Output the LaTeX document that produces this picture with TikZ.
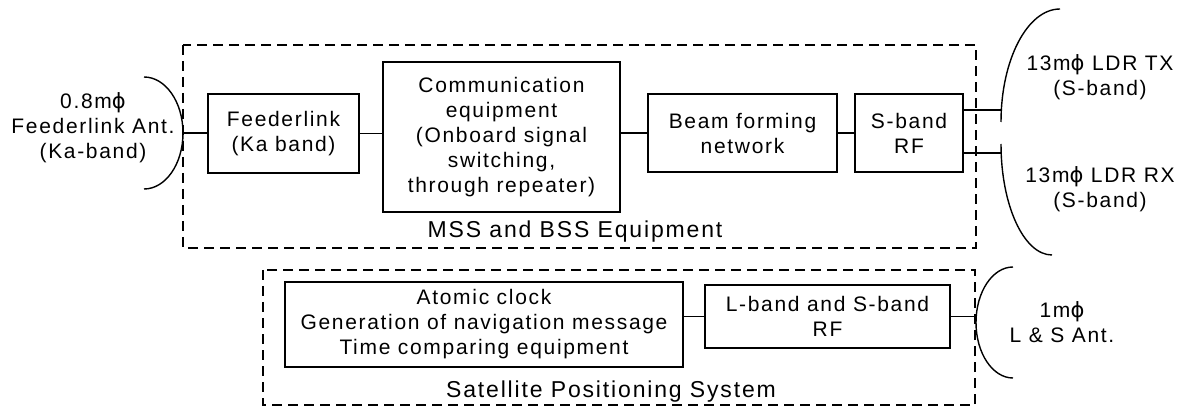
\documentclass[tikz,border=0pt]{standalone}
\usepackage{fontspec}
\setmainfont{Liberation Sans}
\newfontfamily\spacedfont[LetterSpace=8]{Liberation Sans}
\newfontfamily\phifont{DejaVu Sans}
\newcommand{\phisym}{{\phifont ϕ}}
\usepackage{tikz}
\tikzset{
    equip-box/.style = {draw=black, fill=white, line width=1.6pt, rectangle, align=center, inner sep=0pt},
    group-frame/.style = {draw=black, line width=1.4pt, dash pattern=on 10pt off 6pt},
    group-title/.style = {font=\spacedfont\fontsize{23}{27}\selectfont},
    dish/.style = {draw=black, line width=1.4pt},
    link/.style = {draw=black, line width=1.6pt},
    spaced-text/.style = {font=\spacedfont\fontsize{21}{25}\selectfont, align=center},
}

\begin{document}
\begin{tikzpicture}[x=1pt, y=1pt]
\useasboundingbox (0,0) rectangle (1185,407);
\draw[group-frame] (183,362) rectangle (976,159);
\draw[group-frame] (263,137) rectangle (975,2);

\node[equip-box, spaced-text, minimum width=151pt, minimum height=79pt] (feeder) at (283.5,273.5) {Feederlink\\(Ka band)};
\node[equip-box, spaced-text, minimum width=237pt, minimum height=150pt] (comm) at (501.5,270) {Communication\\equipment\\(Onboard signal\\switching,\\through repeater)};
\node[equip-box, spaced-text, minimum width=189pt, minimum height=78pt] (beam) at (742.5,274) {Beam forming\\network};
\node[equip-box, spaced-text, minimum width=108pt, minimum height=78pt] (sband) at (909,274) {S-band\\RF};
\node[group-title] (mss-label) at (575,175) {MSS and BSS Equipment};

\node[equip-box, spaced-text, minimum width=398pt, minimum height=85pt] (atomic) at (484,82.5) {Atomic clock\\Generation of navigation message\\Time comparing equipment};
\node[equip-box, spaced-text, minimum width=245pt, minimum height=63pt] (lband) at (827.5,90.5) {L-band and S-band\\RF};
\node[group-title] (sps-label) at (611,15) {Satellite Positioning System};

\draw[dish] (144,330) arc[start angle=90, end angle=-90, x radius=39pt, y radius=56pt];
\coordinate (feed-ant) at (183,274);
\node[spaced-text] (feed-ant-label) at (93,279) {0.8m\phisym\\Feederlink Ant.\\(Ka-band)};

\draw[dish] (1060,398) arc[start angle=90, end angle=180, x radius=59pt, y radius=113pt];
\draw[dish] (1001,263) arc[start angle=180, end angle=270, x radius=51pt, y radius=111pt];
\coordinate (tx-ant) at (1001,297);
\coordinate (rx-ant) at (1001,254);
\node[spaced-text] (tx-label) at (1100,330) {13m\phisym{} LDR TX\\(S-band)};
\node[spaced-text] (rx-label) at (1100,218) {13m\phisym{} LDR RX\\(S-band)};

\draw[dish] (1013,140) arc[start angle=90, end angle=270, x radius=37pt, y radius=55.5pt];
\coordinate (ls-ant) at (976,88);
\node[spaced-text] (ls-label) at (1062,84.5) {1m\phisym\\L \& S Ant.};

\draw[link] (feed-ant) -- (feeder.west |- feed-ant);
\draw[link] (feeder.east) -- (feeder.east -| comm.west);
\draw[link] (comm.east |- beam.west) -- (beam.west);
\draw[link] (beam.east) -- (sband.west);
\draw[link] (sband.east |- tx-ant) -- (tx-ant);
\draw[link] (sband.east |- rx-ant) -- (rx-ant);
\draw[link] (atomic.east |- lband.west) -- (lband.west);
\draw[link] (lband.east) -- (lband.east -| ls-ant);
\end{tikzpicture}
\end{document}
